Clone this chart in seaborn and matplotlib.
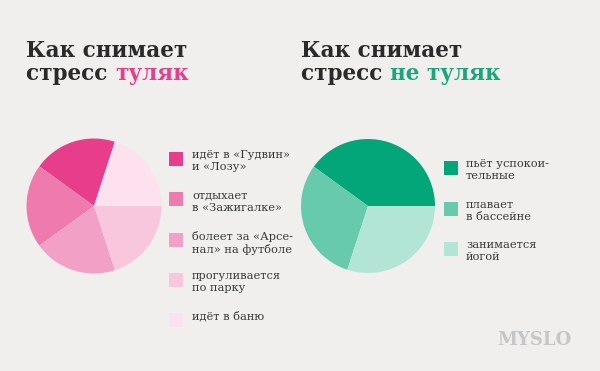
import matplotlib
matplotlib.use("Agg")
import matplotlib.pyplot as plt
import seaborn as sns
from matplotlib.patches import Rectangle

# ---- data ----
tula_labels = ["идёт в «Гудвин»\nи «Лозу»", "отдыхает\nв «Зажигалке»",
               "болеет за «Арсе-\nнал» на футболе", "прогуливается\nпо парку", "идёт в баню"]
tula_values = [20, 20, 20, 20, 20]
tula_colors = ["#e83d8b", "#ee7aae", "#f3a0c6", "#f8c6dd", "#fde1ee"]

other_labels = ["пьёт успокои-\nтельные", "плавает\nв бассейне", "занимается\nйогой"]
other_values = [40, 30, 30]
other_colors = ["#03a678", "#68caad", "#b3e5d7"]

BG = "#f0efed"
TEXT = "#383838"
W, H = 600, 371

sns.set_theme(style="white")
plt.rcParams["font.family"] = ["DejaVu Serif", "DejaVu Sans"]

fig = plt.figure(figsize=(6, 3.71), dpi=100, facecolor=BG)
renderer = fig.canvas.get_renderer()


def fx(x):
    return x / W


def fy(y):
    return 1 - y / H


def pie_axes(cx, cy, r):
    ax = fig.add_axes([fx(cx - r), fy(cy + r), 2 * r / W, 2 * r / H])
    ax.set_facecolor(BG)
    ax.set_axis_off()
    return ax


ax1 = pie_axes(94, 206, 67.5)
ax1.pie(tula_values, colors=tula_colors, startangle=72, counterclock=True,
        radius=1, wedgeprops=dict(linewidth=0))
ax1.set_aspect("auto")
ax1.set_xlim(-1, 1)
ax1.set_ylim(-1, 1)

ax2 = pie_axes(368, 206, 67)
ax2.pie(other_values, colors=other_colors, startangle=0, counterclock=True,
        radius=1, wedgeprops=dict(linewidth=0))
ax2.set_aspect("auto")
ax2.set_xlim(-1, 1)
ax2.set_ylim(-1, 1)

# titles
tkw = dict(fontsize=15.5, fontweight="bold", color="#2a2a2a", va="baseline", ha="left")


def title(x, accent, accent_color):
    fig.text(fx(x), fy(57), "Как снимает", **tkw)
    t = fig.text(fx(x), fy(80), "стресс ", **tkw)
    bb = t.get_window_extent(renderer)
    sp = fig.text(0, 0, "с с", **tkw)
    w_sp = sp.get_window_extent(renderer).width
    sp2 = fig.text(0, 0, "сс", **tkw)
    w_sp -= sp2.get_window_extent(renderer).width
    sp.remove()
    sp2.remove()
    t2 = fig.text(0, 0, "стресс", **tkw)
    w = t2.get_window_extent(renderer).width
    t2.remove()
    fig.text(fx(x + w + w_sp), fy(80), accent, **{**tkw, "color": accent_color})


title(26, "туляк", "#e83d8b")
title(301, "не туляк", "#1aa67b")


def legend(x_sq, x_txt, y0, step, labels, colors):
    for i, (lab, col) in enumerate(zip(labels, colors)):
        y = y0 + i * step
        fig.patches.append(Rectangle((fx(x_sq), fy(y + 14)), 14 / W, 14 / H,
                                     transform=fig.transFigure, facecolor=col,
                                     edgecolor="none"))
        fig.text(fx(x_txt), fy(y - 2), lab, fontsize=8.2, color=TEXT,
                 va="top", ha="left", linespacing=1.3)


legend(169, 192, 152, 40.3, tula_labels, tula_colors)
legend(444, 466, 161, 40.5, other_labels, other_colors)

fig.text(fx(534), fy(340), "MYSLO", fontsize=13, fontweight="bold",
         color="#c6c6c6", ha="center", va="center")

fig.savefig("out.png", dpi=100, facecolor=BG)
